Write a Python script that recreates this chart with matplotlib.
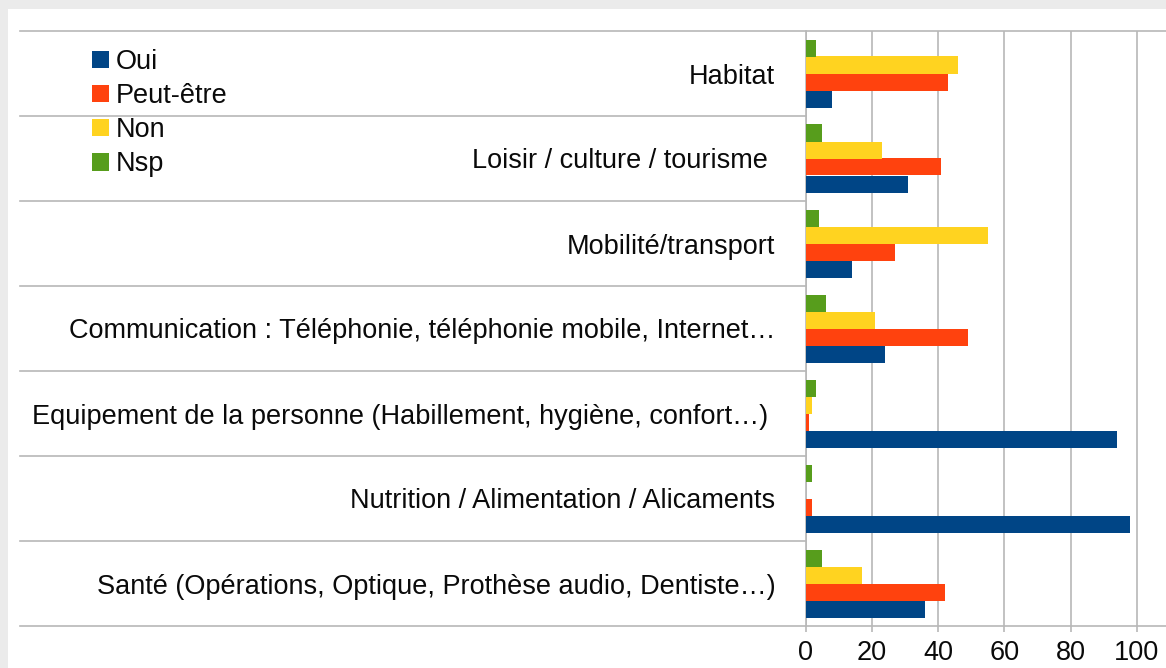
import matplotlib
matplotlib.use("Agg")
import matplotlib.pyplot as plt
from matplotlib.patches import Rectangle, Patch
from matplotlib.transforms import blended_transform_factory
import numpy as np

plt.rcParams['font.family'] = ['Liberation Sans', 'DejaVu Sans']

categories = [
    "Habitat",
    "Loisir / culture / tourisme ",
    "Mobilité/transport",
    "Communication : Téléphonie, téléphonie mobile, Internet…",
    "Equipement de la personne (Habillement, hygiène, confort…) ",
    "Nutrition / Alimentation / Alicaments",
    "Santé (Opérations, Optique, Prothèse audio, Dentiste…)",
]
series_names = ["Oui", "Peut-être", "Non", "Nsp"]
oui       = [8, 31, 14, 24, 94, 98, 36]
peut_etre = [43, 41, 27, 49, 1, 2, 42]
non       = [46, 23, 55, 21, 2, 0, 17]
nsp       = [3, 5, 4, 6, 3, 2, 5]
xticks = [0, 20, 40, 60, 80, 100]

colors = ["#004586", "#ff420e", "#ffd320", "#579d1c"]
grid_c = "#b8b8b8"
fs = 19.5

W, H = 1166, 668
fig = plt.figure(figsize=(W / 100, H / 100), dpi=100, facecolor="#ebebeb")
fig.patches.append(Rectangle((8 / W, 0), (W - 8) / W, (H - 9) / H,
                             transform=fig.transFigure, facecolor="white",
                             edgecolor="none", zorder=-5))

x0, x1 = 805.7, 1166
y_top, y_bot = 31, 626
ax = fig.add_axes([x0 / W, 1 - y_bot / H, (x1 - x0) / W, (y_bot - y_top) / H])
ax.set_facecolor("none")

n = len(categories)
ypos = np.arange(n)[::-1]  # Habitat at top
bh = 0.2
offsets = [-0.3, -0.1, 0.1, 0.3]
for vals, col, off, name in zip([oui, peut_etre, non, nsp], colors, offsets, series_names):
    ax.barh(ypos + off, vals, height=bh, color=col, label=name, zorder=3)

ax.set_ylim(-0.5, n - 0.5)
ax.set_xlim(0, (x1 - x0) / 3.31)
ax.set_xticks(xticks)
ax.set_xticklabels([str(t) for t in xticks])
ax.set_yticks(ypos)
ax.set_yticklabels(categories)
ax.grid(axis="x", color=grid_c, linewidth=1.2, zorder=1)
ax.set_axisbelow(True)
for s in ["top", "right", "bottom"]:
    ax.spines[s].set_visible(False)
ax.spines["left"].set_color(grid_c)
ax.spines["left"].set_linewidth(1.2)
ax.tick_params(axis="x", length=4, width=1.2, color=grid_c, labelsize=fs, pad=6,
               labelcolor="#0a0a0a")
ax.tick_params(axis="y", length=0, labelsize=fs, pad=22, labelcolor="#0a0a0a")

# category separators (LibreOffice style)
tr = blended_transform_factory(fig.transFigure, ax.transData)
bounds = np.arange(-0.5, n, 1.0)
for b in bounds:
    xe = 1.0 if b in (bounds[0], bounds[-1]) else x0 / W
    ax.plot([20 / W, xe], [b, b], transform=tr, color=grid_c, lw=1.2,
            clip_on=False, zorder=2)

handles = [Patch(facecolor=c, edgecolor="none") for c in colors]
fig.legend(handles, series_names, loc="upper left",
           bbox_to_anchor=(92 / W, 1 - 49 / H), frameon=False, fontsize=fs,
           handlelength=0.62, handleheight=0.62, handletextpad=0.25,
           labelspacing=0.3, borderpad=0, borderaxespad=0,
           labelcolor="#0a0a0a")

fig.savefig("out.png", dpi=100, facecolor=fig.get_facecolor())
